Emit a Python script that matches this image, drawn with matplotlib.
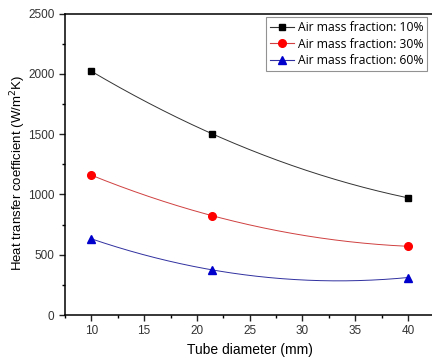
import numpy as np
import matplotlib
matplotlib.use("Agg")
import matplotlib.pyplot as plt
from matplotlib.ticker import MultipleLocator

# tube diameters (mm) and heat transfer coefficients
diameter = [10, 21.4, 40]
htc_10 = [2022, 1505, 972]
htc_30 = [1160, 825, 570]
htc_60 = [632, 375, 311]
labels = ["Air mass fraction: 10%", "Air mass fraction: 30%", "Air mass fraction: 60%"]

plt.rcParams['font.family'] = ['Liberation Sans', 'DejaVu Sans']

fig = plt.figure(figsize=(4.32, 3.6), dpi=100)
ax = fig.add_axes([0.1505, 0.125, 0.855, 0.837])

series = [
    (htc_10, 'black', '#333333', 's', 5),
    (htc_30, 'red', '#d04040', 'o', 5.5),
    (htc_60, '#0000cc', '#3030a0', '^', 5.5),
]

# smooth connecting curve through the three measured points (like Origin's spline)
xs = np.linspace(diameter[0], diameter[-1], 200)
for (vals, mcol, lcol, mk, ms), lab in zip(series, labels):
    coef = np.polyfit(diameter, vals, 2)
    ax.plot(xs, np.polyval(coef, xs), color=lcol, lw=0.7)
    ax.plot(diameter, vals, linestyle='none', marker=mk, color=mcol, ms=ms)
    ax.plot([], [], color=lcol, lw=0.8, marker=mk, mfc=mcol, mec=mcol, ms=ms, label=lab)

ax.set_xlim(7.5, 42.5)
ax.set_ylim(0, 2500)
ax.xaxis.set_major_locator(MultipleLocator(5))
ax.xaxis.set_minor_locator(MultipleLocator(2.5))
ax.yaxis.set_major_locator(MultipleLocator(500))
ax.yaxis.set_minor_locator(MultipleLocator(250))
ax.set_xticks([10, 15, 20, 25, 30, 35, 40])
ax.tick_params(which='major', direction='out', length=4, width=1, labelsize=8.5,
               colors='#222222', labelcolor='#333333')
ax.tick_params(which='minor', direction='out', length=2.5, width=1)
ax.spines['right'].set_visible(False)
for s in ['left', 'bottom', 'top']:
    ax.spines[s].set_linewidth(1.1)

ax.set_xlabel("Tube diameter (mm)", fontsize=10, labelpad=4)
ax.set_ylabel("Heat transfer coefficient (W/m$^2$K)", fontsize=9.5)
ax.yaxis.set_label_coords(-0.1, 0.47)

leg = ax.legend(loc='upper right', bbox_to_anchor=(0.99, 1.0), frameon=True,
                fancybox=False, edgecolor='#777777', handlelength=2.0,
                handletextpad=0.3, borderpad=0.3, labelspacing=0.3, borderaxespad=0.3,
                prop={'family': ['Open Sans', 'DejaVu Sans'], 'size': 8.7})
leg.get_frame().set_linewidth(0.8)

fig.savefig("out.png", dpi=100)
